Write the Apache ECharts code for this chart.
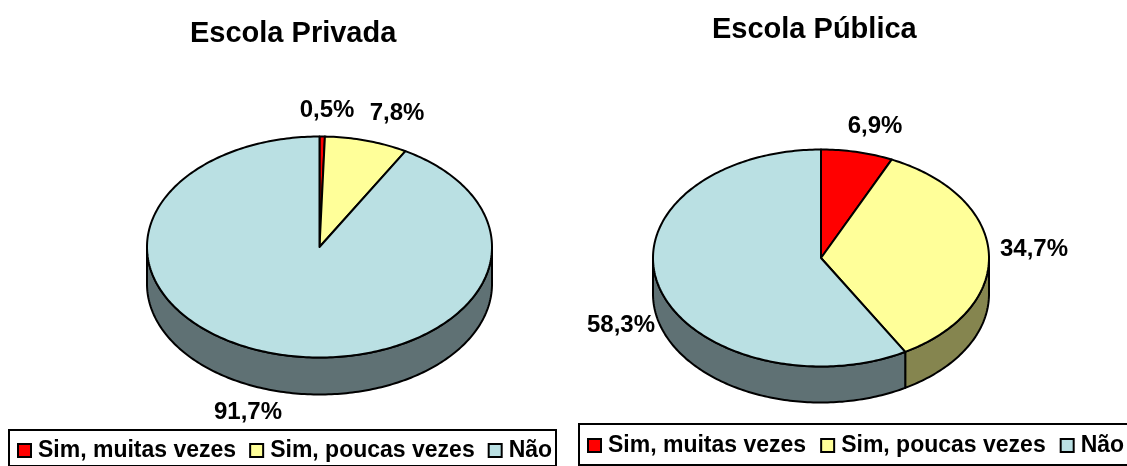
<!DOCTYPE html>
<html><head><meta charset="utf-8">
<style>html,body{margin:0;padding:0;background:#fff}#c{width:1127px;height:466px}</style>
<script src="https://cdn.jsdelivr.net/npm/echarts@6/dist/echarts.min.js"></script>
</head><body><div id="c"></div>
<script>
var categories = ['Sim, muitas vezes', 'Sim, poucas vezes', 'Não'];
var pieTitles = ['Escola Privada', 'Escola Pública'];
var escolaPrivada = [0.5, 7.8, 91.7];
var escolaPublica = [6.9, 34.7, 58.3];
var pies = [escolaPrivada, escolaPublica];

var topColors = ['#FF0000', '#FFFF99', '#BAE0E3'];
var sideColors = ['#800000', '#85854F', '#5F7174'];
var font = '"Liberation Sans", Arial, sans-serif';
var pieLayout = [
  { cx: 319.5, cy: 247, rx: 172.5, ry: 110.5, depth: 37 },
  { cx: 821, cy: 258, rx: 168, ry: 108.5, depth: 36 }
];
var labelCenters = [
  [[327, 110], [397, 113], [248, 412]],
  [[875, 126], [1034, 249], [621, 325]]
];

function pt(g, deg, dy) {
  var t = deg * Math.PI / 180;
  return [g.cx + g.rx * Math.sin(t), g.cy - g.ry * Math.cos(t) + (dy || 0)];
}
function arc(g, a, b, dy) {
  var n = Math.max(2, Math.ceil(Math.abs(b - a))), out = [];
  for (var i = 0; i <= n; i++) out.push(pt(g, a + (b - a) * i / n, dy));
  return out;
}
function renderSlice(params, api) {
  var pie = params.dataIndex, cat = params.seriesIndex, vals = pies[pie], g = pieLayout[pie];
  var total = 0, before = 0;
  vals.forEach(function (v, i) { total += v; if (i < cat) before += v; });
  var a0 = before / total * 360, a1 = a0 + api.value(0) / total * 360;
  var line = { stroke: '#000', lineWidth: 2, lineJoin: 'round' };
  var children = [];
  var s0 = Math.max(a0, 90), s1 = Math.min(a1, 270);
  if (s1 > s0) {
    children.push({
      type: 'polygon', z2: 1,
      shape: { points: arc(g, s0, s1, 0).concat(arc(g, s1, s0, g.depth)) },
      style: Object.assign({ fill: sideColors[cat] }, line)
    });
  }
  children.push({
    type: 'polygon', z2: 2,
    shape: { points: [[g.cx, g.cy]].concat(arc(g, a0, a1, 0)) },
    style: Object.assign({ fill: topColors[cat] }, line)
  });
  var c = labelCenters[pie][cat];
  children.push({
    type: 'text', z2: 3,
    style: {
      x: c[0], y: c[1], text: api.value(0).toFixed(1).replace('.', ',') + '%',
      fill: '#000', font: 'bold 24px ' + font, align: 'center', verticalAlign: 'middle'
    }
  });
  return { type: 'group', children: children };
}

var chart = echarts.init(document.getElementById('c'), null, { renderer: 'canvas' });
chart.setOption({
  animation: false,
  backgroundColor: '#fff',
  title: [
    { text: pieTitles[0], left: 185, top: 14, textStyle: { fontFamily: font, fontSize: 29, fontWeight: 'bold', color: '#000' } },
    { text: pieTitles[1], left: 707, top: 10, textStyle: { fontFamily: font, fontSize: 29, fontWeight: 'bold', color: '#000' } }
  ],
  legend: [
    { left: 17, top: 439, padding: 0, itemGap: 13 },
    { left: 587, top: 434, padding: 0, itemGap: 14 }
  ].map(function (p) {
    return Object.assign({
      data: categories, orient: 'horizontal', selectedMode: false, icon: 'rect',
      itemWidth: 13, itemHeight: 13, symbolRotate: 0,
      itemStyle: { borderColor: '#000', borderWidth: 2 },
      textStyle: { fontFamily: font, fontSize: 23, fontWeight: 'bold', color: '#000', padding: [0, 0, 0, 2] }
    }, p);
  }),
  graphic: [
    { type: 'rect', shape: { x: 9, y: 430, width: 547, height: 36 }, style: { fill: 'none', stroke: '#000', lineWidth: 2 } },
    { type: 'rect', shape: { x: 579, y: 424, width: 560, height: 41 }, style: { fill: 'none', stroke: '#000', lineWidth: 2 } }
  ],
  series: categories.map(function (name, i) {
    return {
      type: 'custom', name: name, coordinateSystem: 'none', silent: true,
      itemStyle: { color: topColors[i] },
      data: pies.map(function (p) { return [p[i]]; }),
      renderItem: renderSlice
    };
  })
});
</script></body></html>
